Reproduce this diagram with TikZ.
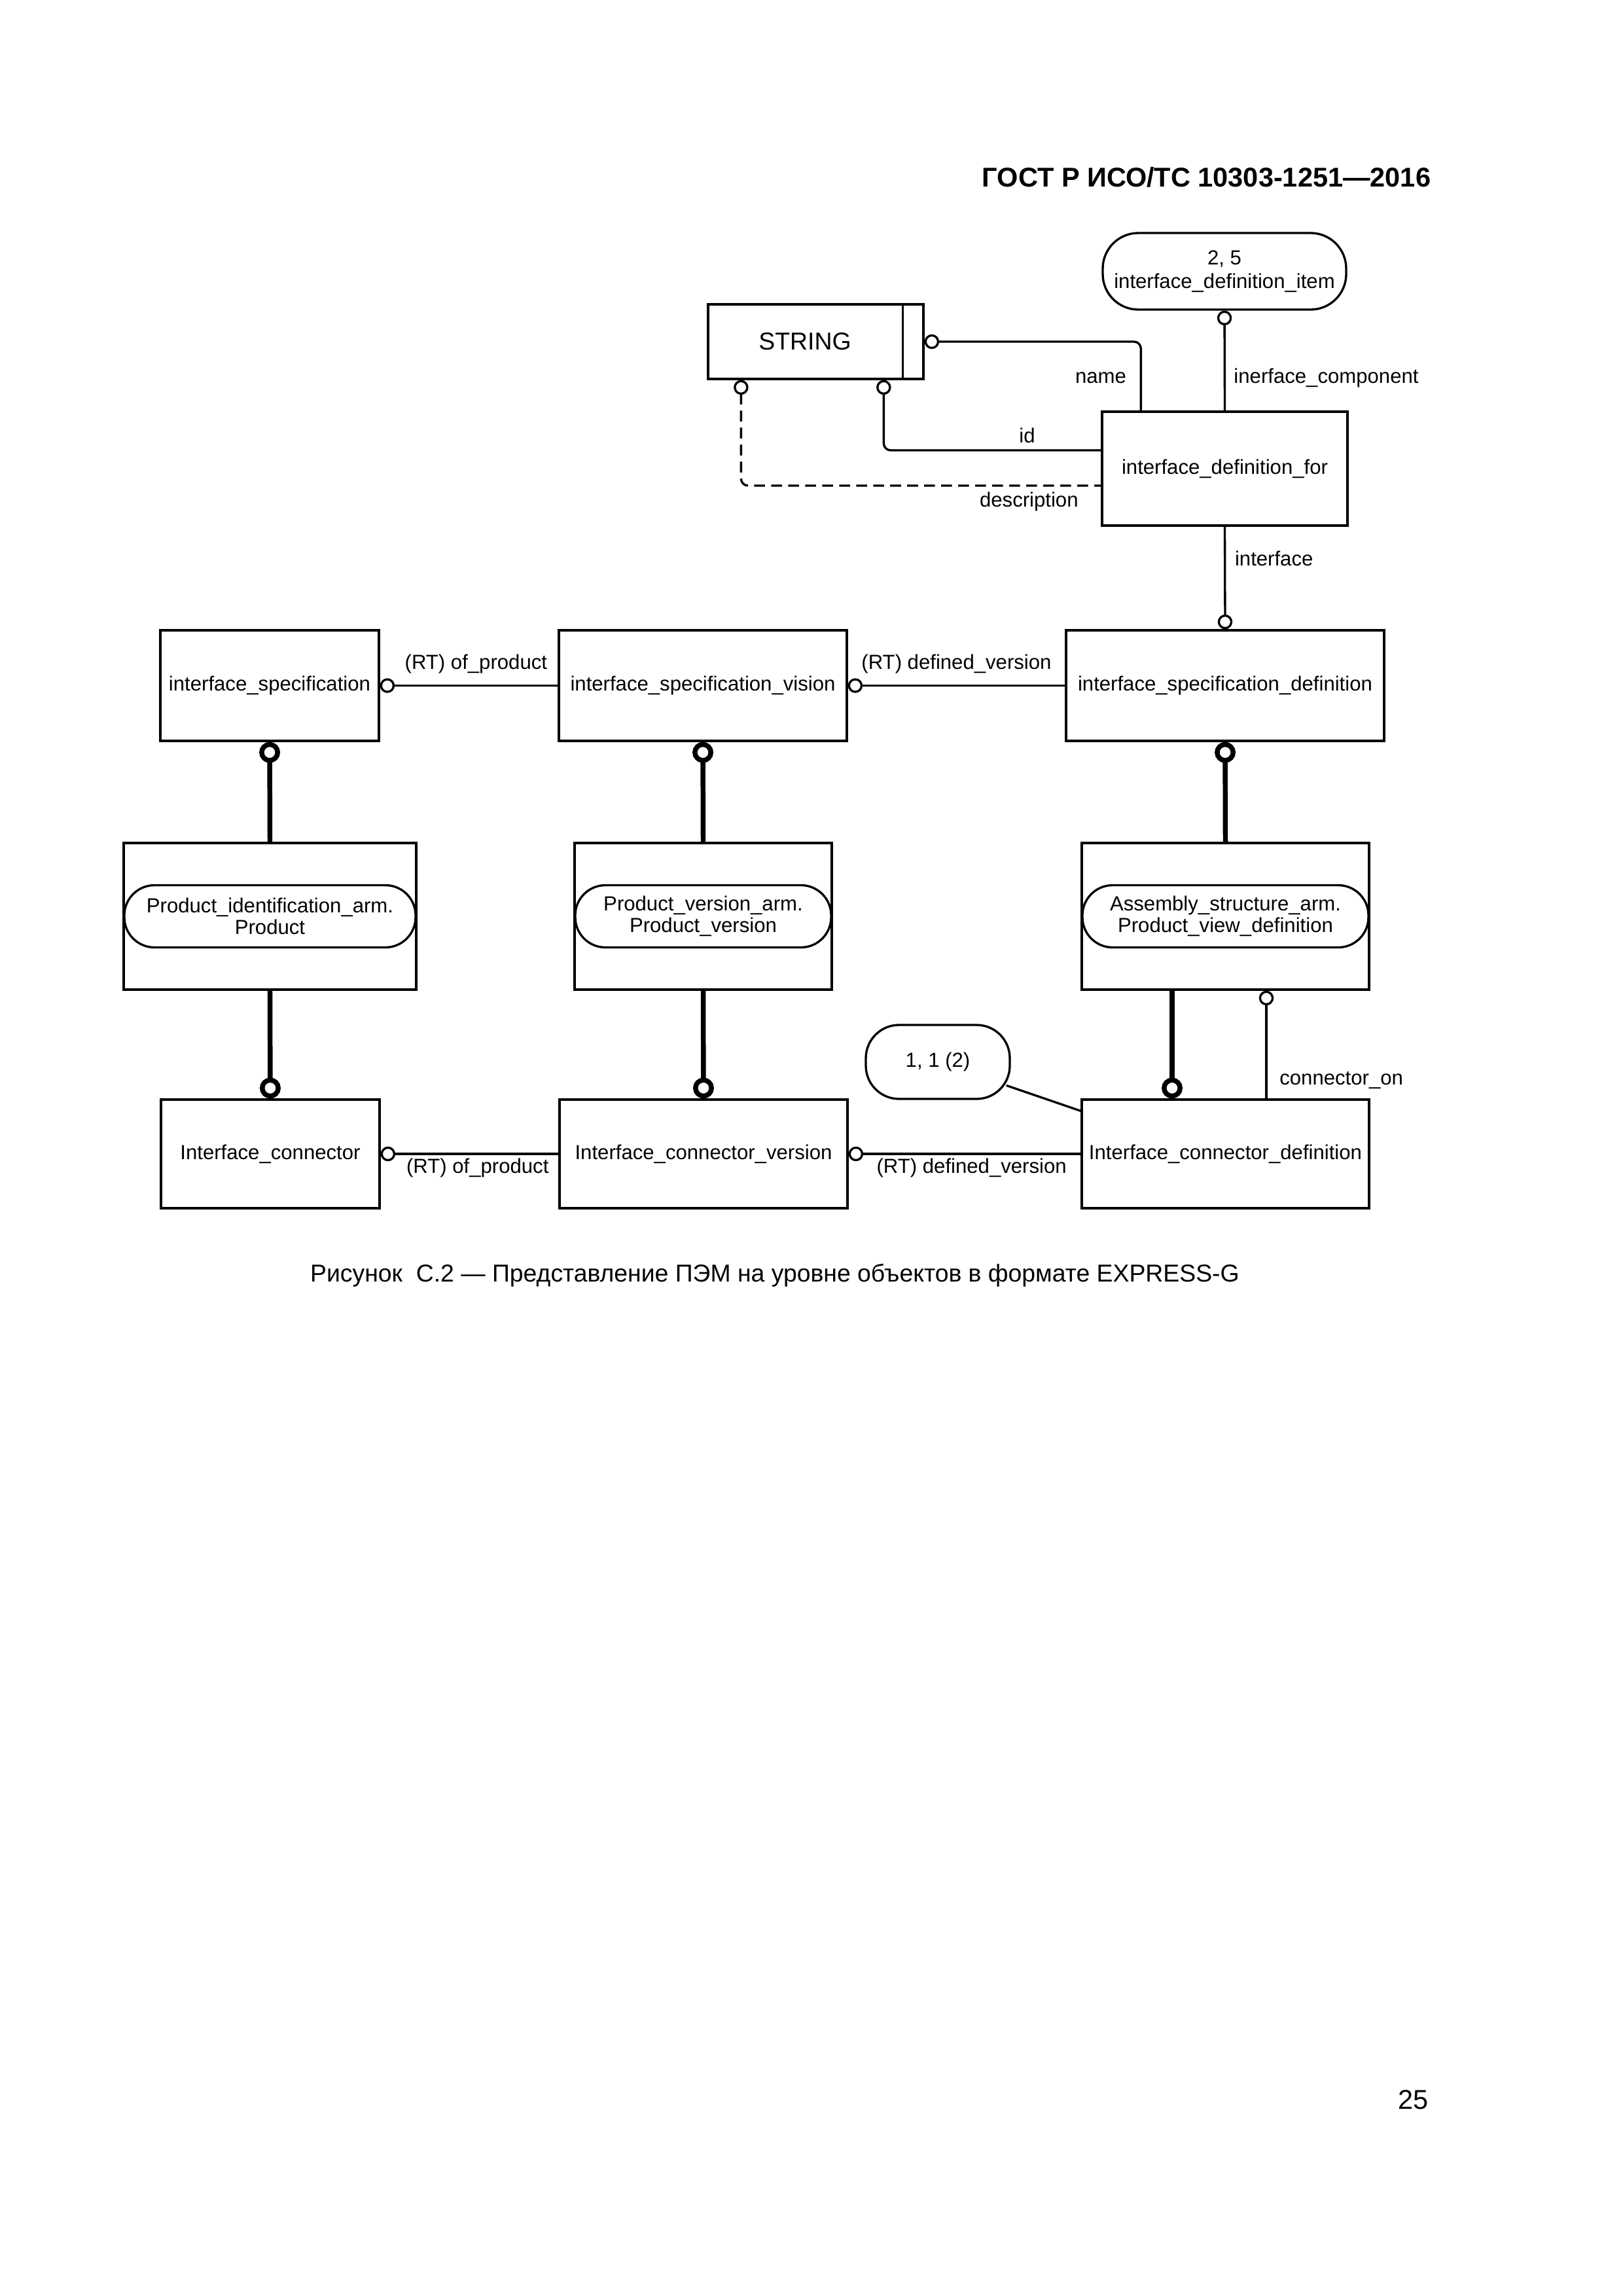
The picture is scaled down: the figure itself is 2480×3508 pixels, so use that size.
\documentclass[tikz,border=0pt]{standalone}
\usepackage{fontspec}
\setmainfont{Liberation Sans}
\usetikzlibrary{arrows.meta,calc}
\newdimen\pxu
\pxu=0.0846775mm
\tikzset{
	entity/.style={draw,line width=0.8pt,inner sep=0pt,align=center,font=\fontsize{7.5}{8.8}\selectfont},
	pill/.style={entity,rounded corners=3.5mm},
	armpill/.style={pill,rounded corners=3.9mm,font=\fontsize{7.5}{8}\selectfont},
	rel/.style={line width=0.8pt,{Circle[open,length=1.9mm]}-},
	relend/.style={line width=0.8pt,-{Circle[open,length=1.9mm]}},
	sub/.style={line width=1.8pt,{Circle[open,length=2.7mm]}-},
	subend/.style={line width=1.8pt,-{Circle[open,length=2.7mm]}},
	lbl/.style={inner sep=0pt,font=\fontsize{7.5}{8.8}\selectfont},
	pagetext/.style={inner sep=0pt,font=\fontsize{10}{12}\selectfont}
}
\begin{document}
\begin{tikzpicture}[x=0.0846775mm,y=-0.0846775mm]
	\useasboundingbox (0,0) rectangle (2480,3508);
	\node[pagetext,anchor=base east,font=\fontsize{10}{12}\selectfont\bfseries] (head) at (2187,285) {ГОСТ Р ИСО/ТС 10303-1251—2016};
	% top part
	\node[entity,minimum width=329\pxu,minimum height=114\pxu] (string) at (1246.5,522) {};
	\node[inner sep=0pt,font=\fontsize{9}{11}\selectfont] (stringtxt) at (1230,522) {STRING};
	\draw[line width=0.8pt] ($(string.north east)+(-33,0)$) -- ($(string.south east)+(-33,0)$);
	\node[pill,rounded corners=4.6mm,minimum width=372\pxu,minimum height=117\pxu] (idi) at (1871,414.5) {2, 5\\interface\_definition\_item};
	\node[entity,minimum width=375\pxu,minimum height=174\pxu] (idf) at (1871.5,716) {interface\_definition\_for};
	% middle row
	\node[entity,minimum width=334\pxu,minimum height=169\pxu] (ispec) at (412,1047.5) {interface\_specification};
	\node[entity,minimum width=440\pxu,minimum height=169\pxu] (isv) at (1074,1047.5) {interface\_specification\_vision};
	\node[entity,minimum width=486\pxu,minimum height=169\pxu] (isd) at (1872,1047.5) {interface\_specification\_definition};
	\node[entity,minimum width=447\pxu,minimum height=224\pxu] (pia) at (412.5,1400) {};
	\node[armpill,minimum width=445\pxu,minimum height=95\pxu] (piaarm) at (pia.center) {Product\_identification\_arm.\\Product};
	\node[entity,minimum width=393\pxu,minimum height=224\pxu] (pva) at (1074.5,1400) {};
	\node[armpill,minimum width=391\pxu,minimum height=95\pxu] (pvaarm) at (pva.center) {Product\_version\_arm.\\Product\_version};
	\node[entity,minimum width=439\pxu,minimum height=224\pxu] (asa) at (1872.5,1400) {};
	\node[armpill,minimum width=437\pxu,minimum height=95\pxu] (asaarm) at (asa.center) {Assembly\_structure\_arm.\\Product\_view\_definition};
	% bottom row
	\node[pill,rounded corners=4.3mm,minimum width=220\pxu,minimum height=113\pxu] (one) at (1433,1622.5) {1, 1 (2)};
	\node[entity,minimum width=334\pxu,minimum height=166\pxu] (ic) at (413,1763) {Interface\_connector};
	\node[entity,minimum width=440\pxu,minimum height=166\pxu] (icv) at (1075,1763) {Interface\_connector\_version};
	\node[entity,minimum width=439\pxu,minimum height=166\pxu] (icd) at (1872.5,1763) {Interface\_connector\_definition};
	\coordinate (onefoot) at ($(icd.north west)+(0,19)$);
	% attributes
	\draw[rel,rounded corners=0.9mm] (string.east) -| node[lbl,pos=0.76,left=5pt] {name} ($(idf.north west)+(61,0)$);
	\draw[rel] (idi.south) -- node[lbl,pos=0.67,right=3pt] {inerface\_component} (idf.north);
	\draw[rel,rounded corners=0.9mm] ($(string.south west)+(270,0)$) |- node[lbl,pos=0.83,above=2.4pt] {id} ($(idf.west)+(0,-28)$);
	\draw[rel,dash pattern=on 1.4mm off 0.8mm,rounded corners=0.9mm] ($(string.south west)+(52,0)$) |- node[lbl,pos=0.9,below=2pt] {description} ($(idf.west)+(0,26)$);
	\draw[relend] (idf.south) -- node[lbl,pos=0.31,right=3.3pt] {interface} (isd.north);
	\draw[rel] (ispec.east) -- node[lbl,pos=0.54,above=4pt] {(RT) of\_product} (isv.west);
	\draw[rel] (isv.east) -- node[lbl,midway,above=4pt] {(RT) defined\_version} (isd.west);
	% subtypes
	\draw[sub] (ispec.south) -- (pia.north);
	\draw[subend] (pia.south) -- (ic.north);
	\draw[sub] (isv.south) -- (pva.north);
	\draw[subend] (pva.south) -- (icv.north);
	\draw[sub] (isd.south) -- (asa.north);
	\draw[subend] ($(asa.south)+(-81.5,0)$) -- ($(icd.north)+(-81.5,0)$);
	\draw[rel] ($(asa.south)+(62.5,0)$) -- node[lbl,pos=0.83,right=4.5pt] {connector\_on} ($(icd.north)+(62.5,0)$);
	\draw[rel] (ic.east) -- node[lbl,pos=0.545,below=1.2pt] {(RT) of\_product} (icv.west);
	\draw[rel] (icv.east) -- node[lbl,pos=0.53,below=1.2pt] {(RT) defined\_version} (icd.west);
	\draw[line width=0.8pt] ($(one)!0.48!(onefoot)$) -- (onefoot);
	% caption
	\node[pagetext,anchor=base,font=\fontsize{9}{11}\selectfont] (caption) at (1184,1958) {Рисунок~ С.2 — Представление ПЭМ на уровне объектов в формате EXPRESS-G};
	\node[pagetext,anchor=base east] (pagenum) at (2183,3222) {25};
\end{tikzpicture}
\end{document}
